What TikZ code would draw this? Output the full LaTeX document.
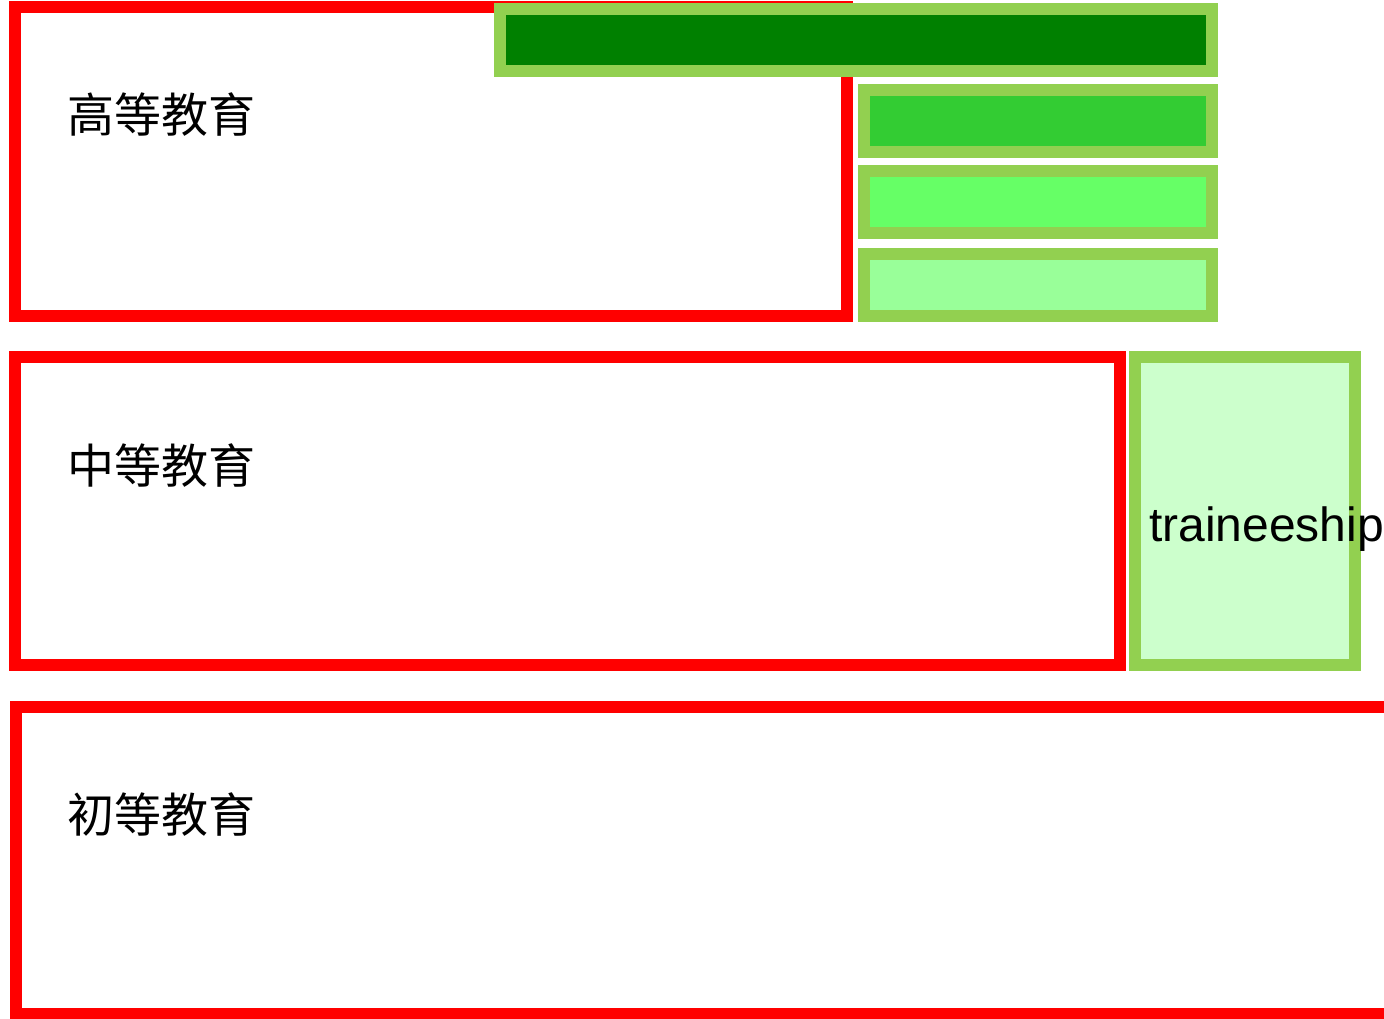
\documentclass[tikz,border=0pt]{standalone}
\usepackage{fontspec}
\setmainfont{Liberation Sans}
\newfontfamily\cjk{Noto Sans CJK SC}
\definecolor{redline}{HTML}{FF0000}
\definecolor{greenline}{HTML}{92D050}
\definecolor{gA}{HTML}{008000}
\definecolor{gB}{HTML}{33CC33}
\definecolor{gC}{HTML}{66FF66}
\definecolor{gD}{HTML}{99FF99}
\definecolor{gE}{HTML}{CCFFCC}
\tikzset{
  levelbox/.style={draw=redline, line width=12pt, fill=white},
  subbox/.style={draw=greenline, line width=12pt},
  cjklabel/.style={font=\cjk\fontsize{47}{50}\selectfont, inner sep=0pt, anchor=base west},
  latlabel/.style={font=\fontsize{48}{52}\selectfont, inner sep=0pt, anchor=base west}
}
\begin{document}
\begin{tikzpicture}[x=1pt,y=-1pt]
\useasboundingbox (0,0) rectangle (1384,1019);
\clip (0,0) rectangle (1384,1019);
% level boxes
\draw[levelbox] (14.5,7.5) rectangle (847,316);
\draw[levelbox] (14.5,357) rectangle (1120,665);
\draw[levelbox] (16,706.5) rectangle (1400,1014);
% sub boxes
\draw[subbox, fill=gA] (499.5,9) rectangle (1212,71);
\draw[subbox, fill=gB] (864,90) rectangle (1212,152);
\draw[subbox, fill=gC] (864,171.5) rectangle (1212,233.5);
\draw[subbox, fill=gD] (864,254) rectangle (1212,316);
\draw[subbox, fill=gE] (1135,357) rectangle (1355,665);
% labels
\node[cjklabel] (higher) at (67,133) {高等教育};
\node[cjklabel] (secondary) at (67,483) {中等教育};
\node[cjklabel] (primary) at (67,832) {初等教育};
\node[latlabel] (trainee) at (1149,541) {traineeship};
\end{tikzpicture}
\end{document}
